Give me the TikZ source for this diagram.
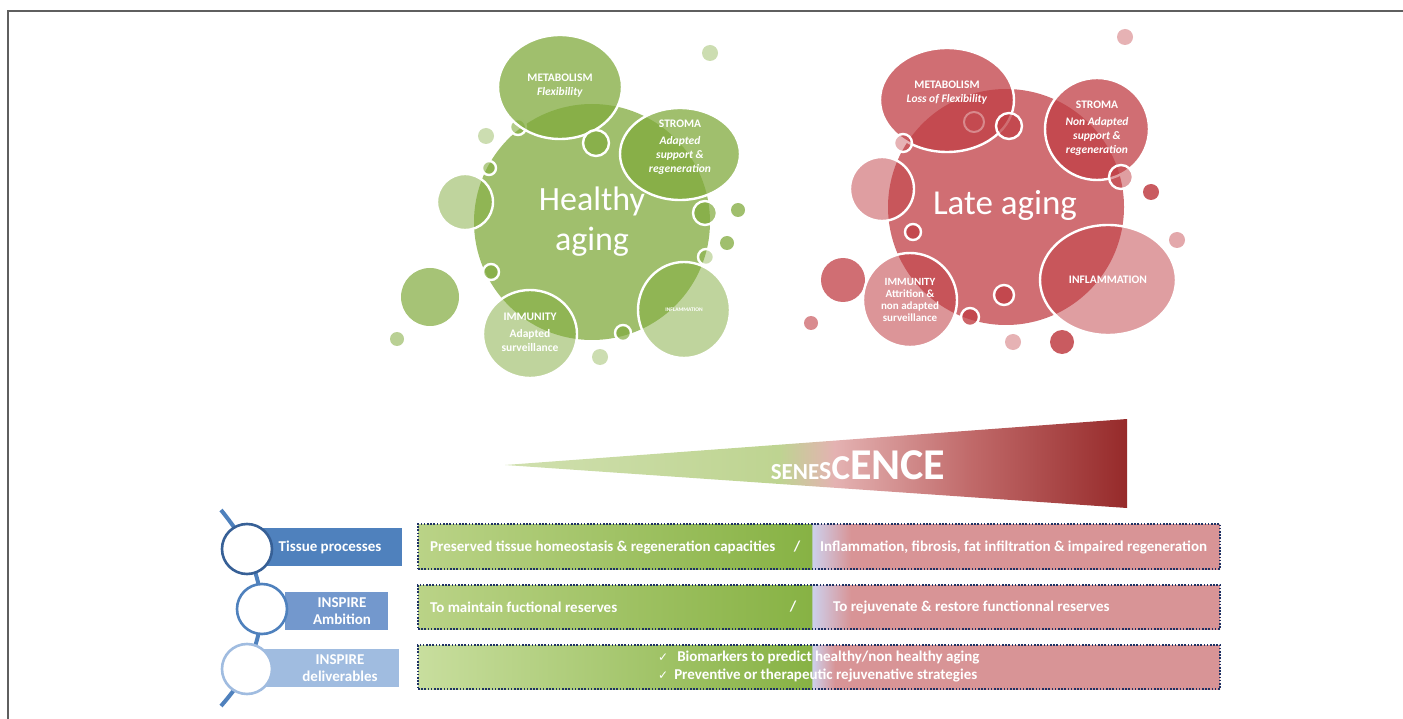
\documentclass[tikz,border=0pt]{standalone}
\usepackage{fontspec}
\setmainfont{Carlito}
\newfontfamily\symfont{DejaVu Sans}
\definecolor{gbase}{RGB}{128,170,60}
\definecolor{rbase}{RGB}{192,62,68}
\definecolor{senA}{RGB}{208,224,175}
\definecolor{senB}{RGB}{190,212,145}
\definecolor{senC}{RGB}{228,178,178}
\definecolor{senD}{RGB}{192,105,105}
\definecolor{senE}{RGB}{150,42,42}
\definecolor{rg1}{RGB}{186,211,135}
\definecolor{rg2}{RGB}{135,178,68}
\definecolor{rg3}{RGB}{200,222,158}
\definecolor{lav}{RGB}{205,208,236}
\definecolor{pk}{RGB}{216,148,150}
\definecolor{navy}{RGB}{30,50,100}
\definecolor{blueA}{RGB}{79,129,189}
\definecolor{blueB}{RGB}{115,152,205}
\definecolor{blueC}{RGB}{160,188,224}
\definecolor{blueD}{RGB}{55,96,150}
\definecolor{framec}{RGB}{95,95,95}
\pgfdeclarehorizontalshading{sen}{100bp}{color(0bp)=(senA); color(25bp)=(senA); color(47bp)=(senB); color(51.5bp)=(senC); color(62.5bp)=(senD); color(75bp)=(senE); color(100bp)=(senE)}
\pgfdeclarehorizontalshading{rowA}{100bp}{color(0bp)=(rg1); color(25bp)=(rg1); color(49.5bp)=(rg2); color(49.6bp)=(lav); color(52bp)=(pk); color(75bp)=(pk); color(100bp)=(pk)}
\pgfdeclarehorizontalshading{rowC}{100bp}{color(0bp)=(rg3); color(25bp)=(rg3); color(49.5bp)=(rg2); color(49.6bp)=(lav); color(51bp)=(pk); color(75bp)=(pk); color(100bp)=(pk)}
\begin{document}
\begin{tikzpicture}[x=1pt,y=-1pt,
  gb/.style={fill=gbase,fill opacity=#1},
  gbw/.style={fill=gbase,fill opacity=#1,draw=white,line width=2.4pt},
  rb/.style={fill=rbase,fill opacity=#1},
  rbw/.style={fill=rbase,fill opacity=#1,draw=white,line width=2.4pt},
  lab/.style={text=white,font=\bfseries\fontsize{11.5}{14}\selectfont,align=center,inner sep=0pt},
  big/.style={text=white,font=\fontsize{34}{40}\selectfont,align=center,inner sep=0pt},
  rowbox/.style={draw=navy,line width=1.6pt,dash pattern=on 1.6pt off 1.6pt,minimum width=802pt,minimum height=44pt,inner sep=0pt,shade},
  rowtext/.style={text=white,font=\bfseries\fontsize{15}{18}\selectfont,inner sep=0pt},
  bluebox/.style={minimum height=38pt,inner sep=0pt},
  boxtext/.style={text=white,font=\bfseries\fontsize{15}{17}\selectfont,align=center,inner sep=0pt},
  ring/.style={circle,fill=white,draw=#1,line width=2.6pt,minimum size=50pt,inner sep=0pt},
  spine/.style={draw=blueA,line width=4pt}
]
\useasboundingbox (0,0) rectangle (1403,719);
\draw[framec,line width=2pt] (8,719) -- (8,11) -- (1403,11);

% ---------------- Healthy aging cluster ----------------
\fill[gb=0.75] (592,222) circle[radius=118];
\fill[gb=0.7] (430,297) circle[radius=29];
\fill[gb=0.55] (397,339) circle[radius=7];
\fill[gb=0.4] (710,53) circle[radius=8];
\fill[gb=0.4] (486,136) circle[radius=8];
\fill[gb=0.75] (738,210) circle[radius=7];
\fill[gb=0.75] (727,243) circle[radius=7];
\fill[gb=0.4] (600,357) circle[radius=8];
\filldraw[gbw=0.6] (518,127) circle[radius=8];
\filldraw[gbw=0.75] (560,87) ellipse[x radius=62,y radius=52];
\filldraw[gbw=0.75] (680,154) ellipse[x radius=60,y radius=46];
\filldraw[gbw=0.5] (465,202) circle[radius=28];
\filldraw[gbw=0.5] (530,334) ellipse[x radius=47,y radius=44];
\filldraw[gbw=0.5] (684,310) ellipse[x radius=46,y radius=48];
\filldraw[gbw=0.7] (596,143) circle[radius=13];
\filldraw[gbw=0.6] (489,168) circle[radius=7];
\filldraw[gbw=0.7] (491,272) circle[radius=8];
\filldraw[gbw=0.7] (705,213) circle[radius=12];
\filldraw[gbw=0.4] (706,257) circle[radius=8];
\filldraw[gbw=0.7] (623,333) circle[radius=8];

\node[big] (ha) at (592,222) {Healthy\\aging};
\node[lab] (gmet) at (560,86) {METABOLISM\\\textit{Flexibility}};
\node[lab] (gstr) at (680,147) {STROMA\\[3pt]\textit{Adapted}\\\textit{support \&}\\\textit{regeneration}};
\node[lab] (gimm) at (530,332) {IMMUNITY\\[3pt]Adapted\\surveillance};
\node[lab,font=\bfseries\fontsize{5.5}{6}\selectfont] (ginf) at (684,310) {INFLAMMATION};

% ---------------- Late aging cluster ----------------
\fill[rb=0.75] (1006,207) circle[radius=118];
\fill[rb=0.75] (843,280) circle[radius=22];
\fill[rb=0.6] (811,323) circle[radius=7];
\fill[rb=0.4] (1125,37) circle[radius=8];
\fill[rb=0.45] (1177,240) circle[radius=8];
\fill[rb=0.85] (1151,192) circle[radius=8];
\fill[rb=0.4] (1013,342) circle[radius=8];
\fill[rb=0.85] (1062,342) circle[radius=12];
\filldraw[rbw=0.75] (947,100) ellipse[x radius=67,y radius=52];
\filldraw[rbw=0.75] (1097,129) ellipse[x radius=52,y radius=51];
\filldraw[rbw=0.5] (882,189) circle[radius=32];
\filldraw[rbw=0.55] (910,300) circle[radius=47];
\filldraw[rbw=0.5] (1108,280) ellipse[x radius=68,y radius=55];
\draw[white,opacity=0.35,line width=2pt] (974,122) circle[radius=10];
\filldraw[rbw=0.75] (1009,126) circle[radius=13];
\filldraw[rbw=0.4] (903,143) circle[radius=9];
\filldraw[rbw=0.5] (1121,177) circle[radius=12];
\filldraw[rbw=0.8] (913,232) circle[radius=8];
\filldraw[rbw=0.8] (1004,295) circle[radius=10];
\filldraw[rbw=0.8] (970,317) circle[radius=9];

\node[big,font=\fontsize{35}{40}\selectfont] (la) at (1005,205) {Late aging};
\node[lab] (rmet) at (947,93) {METABOLISM\\\textit{Loss of Flexibility}};
\node[lab] (rstr) at (1097,128) {STROMA\\[3pt]\textit{Non Adapted}\\\textit{support \&}\\\textit{regeneration}};
\node[lab,font=\bfseries\fontsize{11}{12}\selectfont] (rimm) at (910,300) {IMMUNITY\\Attrition \&\\non adapted\\surveillance};
\node[lab] (rinf) at (1108,280) {INFLAMMATION};

% ---------------- Senescence wedge ----------------
\coordinate (wt) at (505,465);
\coordinate (wa) at (1127,419);
\coordinate (wb) at (1127,508);
\shade[shading=sen] (wt) -- (wa) -- (wb) -- cycle;
\node[text=white,font=\bfseries,anchor=base,inner sep=0pt] (sen) at (858,479)
  {{\fontsize{23}{23}\selectfont SENE}{\fontsize{26}{26}\selectfont S}{\fontsize{35}{35}\selectfont C}{\fontsize{44}{44}\selectfont ENCE}};

% ---------------- Left spine ----------------
\coordinate (s0) at (221,510);
\coordinate (p1) at (247,549);
\coordinate (p2) at (262,609);
\coordinate (p3) at (247,669);
\coordinate (s4) at (221,706);
\draw[spine] plot[smooth,tension=0.55] coordinates {(s0) (p1) (p2) (p3) (s4)};

\node[bluebox,fill=blueA,minimum width=144pt] (b1) at (330,547) {};
\node[bluebox,fill=blueB,minimum width=103pt] (b2) at (336,611) {};
\node[bluebox,fill=blueC,minimum width=135pt] (b3) at (331,668) {};
\node[ring=blueD] (c1) at (p1) {};
\node[ring=blueA] (c2) at (p2) {};
\node[ring=blueC] (c3) at (p3) {};
\node[boxtext] (t1) at (330,547) {Tissue processes};
\node[boxtext] (t2) at (342,611) {INSPIRE\\Ambition};
\node[boxtext] (t3) at (340,668) {INSPIRE\\deliverables};

% ---------------- Rows ----------------
\node[rowbox,shading=rowA,minimum height=45pt] (r1) at (819,546.5) {};
\node[rowbox,shading=rowA] (r2) at (819,607) {};
\node[rowbox,shading=rowC] (r3) at (819,667) {};

\node[rowtext,anchor=west] (r1a) at (430,547) {Preserved tissue homeostasis \& regeneration capacities};
\node[rowtext] (r1s) at (797,547) {/};
\node[rowtext,anchor=west] (r1b) at (820,547) {Inflammation, fibrosis, fat infiltration \& impaired regeneration};
\node[rowtext,anchor=west] (r2a) at (430,607) {To maintain fuctional reserves};
\node[rowtext] (r2s) at (793,607) {/};
\node[rowtext,anchor=west] (r2b) at (833,607) {To rejuvenate \& restore functionnal reserves};
\node[rowtext,anchor=west,align=left,font=\bfseries\fontsize{15}{18}\selectfont] (r3a) at (658,667)
  {{\symfont\fontsize{12}{12}\selectfont ✓}\hspace{9pt}Biomarkers to predict healthy/non healthy aging\\{\symfont\fontsize{12}{12}\selectfont ✓}\hspace{6pt}Preventive or therapeutic rejuvenative strategies};
\end{tikzpicture}
\end{document}
